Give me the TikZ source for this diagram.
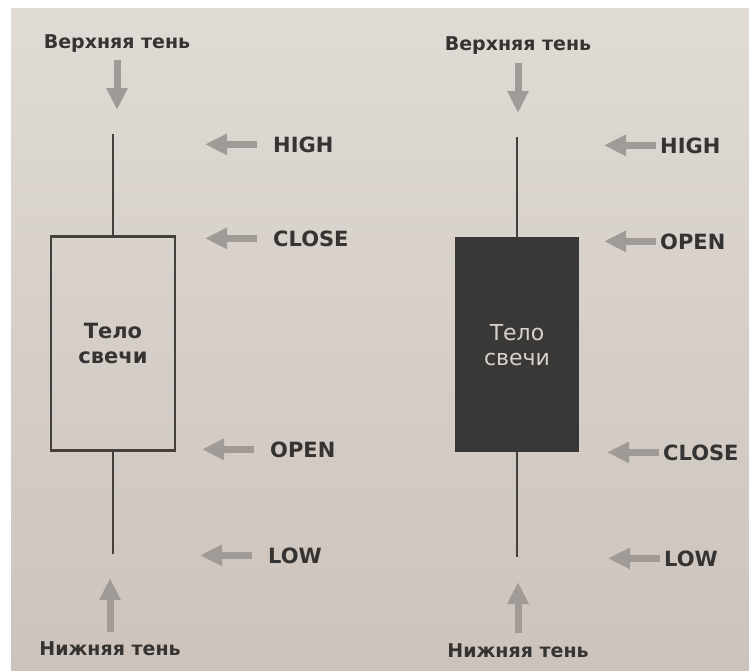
\documentclass[tikz,border=0pt]{standalone}
\usepackage{fontspec}
\setmainfont{DejaVu Sans}
\usetikzlibrary{arrows.meta}

\definecolor{ink}{HTML}{363432}
\definecolor{wickcol}{HTML}{43403D}
\definecolor{pointer}{HTML}{A09B97}
\definecolor{bodyfill}{HTML}{3A3837}
\definecolor{bodytext}{HTML}{D6D3CF}
\definecolor{pagetop}{HTML}{E0DBD5}
\definecolor{pagebot}{HTML}{CCC3BC}

\begin{document}
\begin{tikzpicture}[x=1pt,y=-1pt,
  price/.style={font=\bfseries\fontsize{21}{21}\selectfont, text=ink,
    anchor=base west, inner sep=0pt},
  shadowlbl/.style={font=\bfseries\fontsize{19}{19}\selectfont, text=ink,
    anchor=base, inner sep=0pt},
  fat/.style={pointer, line width=7pt, -{Triangle[length=22pt,width=20pt]}},
  wick/.style={wickcol, line width=2.5pt},
  hollowbody/.style={draw=wickcol, line width=2.6pt, fill=none,
    minimum width=124pt, minimum height=214pt, inner sep=0pt, anchor=north,
    align=center, font=\bfseries\fontsize{21}{25}\selectfont, text=ink},
  solidbody/.style={draw=none, fill=bodyfill,
    minimum width=124pt, minimum height=215pt, inner sep=0pt, anchor=north,
    align=center, font=\fontsize{22}{25}\selectfont, text=bodytext}
]
\useasboundingbox (0,0) rectangle (749,670);
\fill[white] (0,0) rectangle (749,670);
\shade[top color=pagetop, bottom color=pagebot] (11,8) rectangle (749,670);

% ---------- bullish candle (hollow) ----------
\node[hollowbody] (bodyL) at (113,235) {Тело\\свечи};
\coordinate (highL) at (113,134);
\coordinate (lowL) at (113,554);
\draw[wick] (bodyL.north) -- (highL);
\draw[wick] (bodyL.south) -- (lowL);

\node[shadowlbl] (upperL) at (117,48) {Верхняя тень};
\draw[fat] ([yshift=-12pt]upperL.base) -- ([yshift=-62pt]upperL.base);
\node[shadowlbl] (lowerL) at (110,655) {Нижняя тень};
\draw[fat] ([yshift=23pt]lowerL.base) -- ([yshift=77pt]lowerL.base);

\node[price] (hiL) at (273,152) {HIGH};
\node[price] (clL) at (273,246) {CLOSE};
\node[price] (opL) at (270,457) {OPEN};
\node[price] (loL) at (268,563) {LOW};
\foreach \n in {hiL,clL,opL,loL}
  \draw[fat] ([xshift=-16pt]\n.west) -- ([xshift=-68pt]\n.west);

% ---------- bearish candle (filled) ----------
\node[solidbody] (bodyR) at (517,237) {Тело\\свечи};
\coordinate (highR) at (517,137);
\coordinate (lowR) at (517,557);
\draw[wick] (bodyR.north) -- (highR);
\draw[wick] (bodyR.south) -- (lowR);

\node[shadowlbl] (upperR) at (518,50) {Верхняя тень};
\draw[fat] ([yshift=-13pt]upperR.base) -- ([yshift=-63pt]upperR.base);
\node[shadowlbl] (lowerR) at (518,657) {Нижняя тень};
\draw[fat] ([yshift=24pt]lowerR.base) -- ([yshift=75pt]lowerR.base);

\node[price] (hiR) at (660,153) {HIGH};
\node[price] (opR) at (660,249) {OPEN};
\node[price] (clR) at (663,460) {CLOSE};
\node[price] (loR) at (664,566) {LOW};
\foreach \n in {hiR,opR,clR,loR}
  \draw[fat] ([xshift=-4pt]\n.west) -- ([xshift=-56pt]\n.west);
\end{tikzpicture}
\end{document}
